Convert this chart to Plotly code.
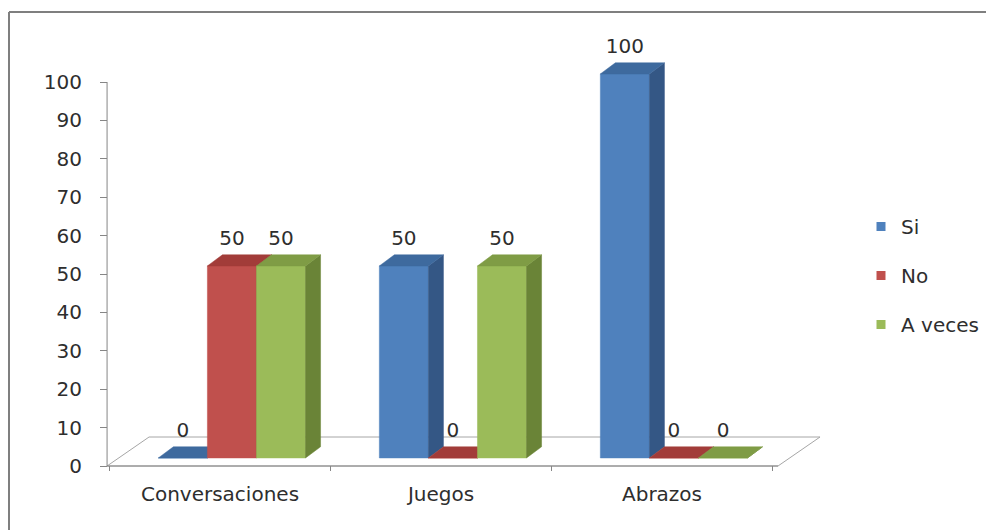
import plotly.graph_objects as go

# ---------------- data ----------------
categories = ["Conversaciones", "Juegos", "Abrazos"]
series_names = ["Si", "No", "A veces"]
si_values = [0, 50, 100]
no_values = [50, 0, 0]
a_veces_values = [50, 50, 0]
y_ticks = [0, 10, 20, 30, 40, 50, 60, 70, 80, 90, 100]

# ---------------- style ----------------
front_colors = ["#4F81BD", "#C0504D", "#9BBB59"]
top_colors = ["#3E6A9E", "#A23C39", "#7F9C45"]
side_colors = ["#345785", "#8A3431", "#6A8437"]
FONT = "DejaVu Sans"
FS = 20
TXT = "#2E2E2E"
AXIS_COL = "#868686"

# geometry in data units (1 unit on x = one category)
BAR_W = 0.222
GROUP_OFF = 0.054
BASE = 2.1
SIDE_DX = 0.068
SIDE_DY = 2.9
LABEL_GAP = 3.8
AX_X = -0.511
FLOOR_X1 = 2.525
FLOOR_DX = 0.19
FLOOR_DY = 7.55

values = [si_values, no_values, a_veces_values]
fig = go.Figure()

# floor
fx = [AX_X, FLOOR_X1, FLOOR_X1 + FLOOR_DX, AX_X + FLOOR_DX, AX_X]
fy = [0, 0, FLOOR_DY, FLOOR_DY, 0]
fig.add_trace(go.Scatter(x=fx, y=fy, mode="lines", fill="toself", fillcolor="white",
                         line=dict(color="#A6A6A6", width=1), hoverinfo="skip", showlegend=False))
# front edge of floor (category axis)
fig.add_trace(go.Scatter(x=[AX_X, FLOOR_X1], y=[0, 0], mode="lines",
                         line=dict(color=AXIS_COL, width=1), hoverinfo="skip", showlegend=False))
# category boundary ticks
ntick = len(categories) + 1
tx, ty = [], []
for j in range(ntick):
    xx = j - 0.5
    tx += [xx, xx, None]
    ty += [0, -1.3, None]
fig.add_trace(go.Scatter(x=tx, y=ty, mode="lines", line=dict(color=AXIS_COL, width=1),
                         hoverinfo="skip", showlegend=False))
# value axis line
fig.add_trace(go.Scatter(x=[AX_X, AX_X], y=[y_ticks[0], y_ticks[-1]], mode="lines",
                         line=dict(color=AXIS_COL, width=1), hoverinfo="skip", showlegend=False))

# bars (3D look)
lab_x, lab_y, lab_t = [], [], []
for i, cat in enumerate(categories):
    for k in range(len(series_names)):
        v = values[k][i]
        xl = i + GROUP_OFF + (k - 1.5) * BAR_W
        xr = xl + BAR_W
        b, t = BASE, BASE + v
        faces = [
            ([xl, xr, xr, xl, xl], [b, b, t, t, b], front_colors[k]),
            ([xr, xr + SIDE_DX, xr + SIDE_DX, xr, xr], [b, b + SIDE_DY, t + SIDE_DY, t, b], side_colors[k]),
            ([xl, xr, xr + SIDE_DX, xl + SIDE_DX, xl], [t, t, t + SIDE_DY, t + SIDE_DY, t], top_colors[k]),
        ]
        for px, py, col in faces:
            fig.add_trace(go.Scatter(x=px, y=py, mode="lines", fill="toself", fillcolor=col,
                                     line=dict(color=col, width=0.5), hoverinfo="skip",
                                     showlegend=False))
        lab_x.append(xl + BAR_W / 2)
        lab_y.append(t + SIDE_DY + LABEL_GAP)
        lab_t.append(str(v))

fig.add_trace(go.Scatter(x=lab_x, y=lab_y, text=lab_t, mode="text",
                         textfont=dict(family=FONT, size=FS, color=TXT),
                         hoverinfo="skip", showlegend=False, cliponaxis=False))

# legend entries
for k, name in enumerate(series_names):
    fig.add_trace(go.Scatter(x=[None], y=[None], mode="markers", name=name,
                             legendgroup=name,
                             marker=dict(symbol="square", size=9, color=front_colors[k])))

# screen-space plot area (page has an 8px body margin)
PAGE_OFF = 8
W, H = 994, 530
SL, SR, ST, SB = 100, 830, 30, 480
pw = SR - SL
ph = SB - ST
L = SL - PAGE_OFF
T = ST - PAGE_OFF
R = W - (SR - PAGE_OFF)
B = H - (SB - PAGE_OFF)
CAT_PX = 221.0
CAT0_PX = 220.0
Y0_PX = 466.0
Y_PX_PER = 3.84

x_range = [(SL - CAT0_PX) / CAT_PX, (SR - CAT0_PX) / CAT_PX]
y_range = [(Y0_PX - SB) / Y_PX_PER, (Y0_PX - ST) / Y_PX_PER]

fig.update_layout(
    width=W, height=H,
    margin=dict(l=L, r=R, t=T, b=B),
    paper_bgcolor="white", plot_bgcolor="white",
    font=dict(family=FONT, size=FS, color=TXT),
    showlegend=True,
    legend=dict(x=(861 - SL) / pw, xanchor="left", y=(SB - 207) / ph, yanchor="top",
                traceorder="grouped", tracegroupgap=20,
                font=dict(family=FONT, size=FS, color=TXT), bgcolor="rgba(0,0,0,0)"),
    xaxis=dict(range=x_range, tickvals=[0, 1, 2], ticktext=categories, showgrid=False,
               zeroline=False, showline=False, ticks="", fixedrange=True,
               tickfont=dict(family=FONT, size=FS, color=TXT)),
    yaxis=dict(range=y_range, tickvals=y_ticks, showgrid=False, zeroline=False,
               showline=False, ticks="outside", ticklen=7, tickcolor=AXIS_COL,
               anchor="free", position=(107 - SL) / pw, ticklabelstandoff=14,
               tickfont=dict(family=FONT, size=FS, color=TXT), fixedrange=True),
    shapes=[
        dict(type="line", xref="paper", yref="paper",
             x0=(9 - SL) / pw, x1=(W + 20 - SL) / pw, y0=(SB - 12) / ph, y1=(SB - 12) / ph,
             line=dict(color="#7F7F7F", width=2)),
        dict(type="line", xref="paper", yref="paper",
             x0=(9 - SL) / pw, x1=(9 - SL) / pw, y0=(SB - 12) / ph, y1=(SB - H - 20) / ph,
             line=dict(color="#7F7F7F", width=2)),
    ],
)

fig.write_html("out.html")
